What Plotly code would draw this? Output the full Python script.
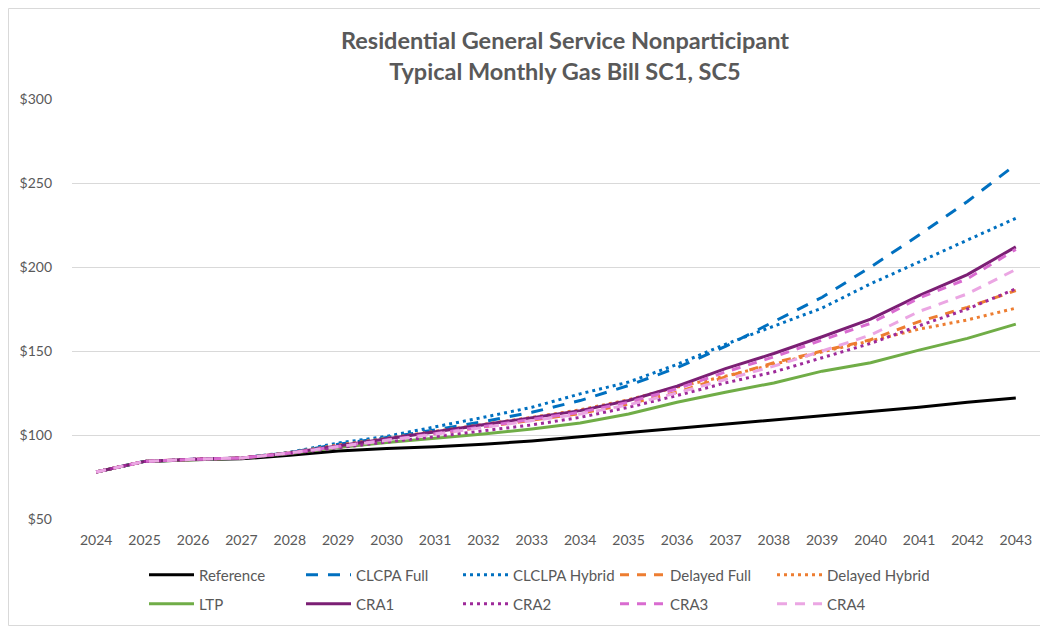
import plotly.graph_objects as go

years = [str(y) for y in range(2024, 2044)]

reference      = [78, 84.3, 85.2, 85.8, 88.0, 90.5, 92.0, 93.0, 94.5, 96.5, 99.0, 101.5, 104.0, 106.5, 109.0, 111.2, 113.6, 116.5, 119.5, 122.0]
clcpa_full     = [78, 84.3, 85.5, 86.3, 89.5, 94.5, 98.5, 103.0, 108.0, 113.5, 120.5, 129.5, 140.0, 152.7, 167.5, 182.0, 200.0, 219.0, 239.0, 261.0]
clclpa_hybrid  = [78, 84.3, 85.5, 86.3, 89.8, 95.2, 99.2, 104.8, 110.5, 116.5, 124.5, 131.5, 142.0, 154.0, 164.7, 175.6, 190.0, 203.0, 216.0, 229.0]
delayed_full   = [78, 84.3, 85.5, 86.3, 89.3, 93.3, 97.0, 100.8, 104.8, 108.8, 112.8, 118.5, 125.5, 134.5, 143.0, 150.0, 156.7, 167.5, 176.0, 186.0]
delayed_hybrid = [78, 84.3, 85.5, 86.3, 89.5, 94.0, 98.0, 102.0, 106.3, 110.5, 115.0, 121.0, 128.5, 135.0, 142.0, 149.5, 156.0, 163.0, 168.5, 175.5]
ltp            = [78, 84.3, 85.3, 86.3, 89.0, 92.5, 95.5, 98.0, 100.6, 103.6, 107.2, 112.5, 119.5, 125.5, 131.0, 138.0, 143.0, 150.5, 157.5, 166.0]
cra1           = [78, 84.3, 85.5, 86.3, 89.3, 93.5, 97.5, 101.5, 106.0, 110.0, 114.5, 120.5, 129.0, 139.5, 148.5, 158.5, 169.0, 183.0, 195.5, 212.0]
cra2           = [78, 84.3, 85.5, 86.3, 89.0, 92.5, 95.8, 99.0, 102.5, 106.0, 110.5, 116.5, 123.5, 131.0, 137.5, 146.0, 154.5, 165.0, 175.0, 187.0]
cra3           = [78, 84.3, 85.5, 86.3, 89.3, 93.3, 97.0, 100.8, 105.0, 109.0, 113.5, 119.5, 127.5, 137.5, 146.5, 156.5, 166.5, 181.5, 193.0, 210.5]
cra4           = [78, 84.3, 85.5, 86.3, 89.3, 93.2, 96.8, 100.5, 104.5, 108.5, 112.5, 118.0, 125.0, 133.0, 141.0, 150.0, 159.5, 173.5, 184.0, 198.5]

y_ticks = [50, 100, 150, 200, 250, 300]
y_tick_labels = ["$50", "$100", "$150", "$200", "$250", "$300"]

series = [
    ("Reference", reference, "#000000", "solid", "legend"),
    ("CLCPA Full", clcpa_full, "#0070C0", "12px,10px", "legend"),
    ("CLCLPA Hybrid", clclpa_hybrid, "#0070C0", "3px,4px", "legend"),
    ("Delayed Full", delayed_full, "#ED7D31", "9px,8px", "legend"),
    ("Delayed Hybrid", delayed_hybrid, "#ED7D31", "3px,4px", "legend"),
    ("LTP", ltp, "#70AD47", "solid", "legend2"),
    ("CRA1", cra1, "#7B1F74", "solid", "legend2"),
    ("CRA2", cra2, "#9E2A9A", "3px,4px", "legend2"),
    ("CRA3", cra3, "#D96BD0", "9px,8px", "legend2"),
    ("CRA4", cra4, "#EBA6E3", "10px,8px", "legend2"),
]

fig = go.Figure()
for name, vals, color, dash, leg in series:
    fig.add_trace(go.Scatter(
        x=years, y=vals, name=name, mode="lines", legend=leg,
        line=dict(color=color, width=3, dash=dash),
    ))

# page has an 8px body margin: figure is 1040x620, offset by 8px
W, H = 1040, 620
L, R, T, B = 64, 8, 91, 109
PW, PH = W - L - R, H - T - B

font_family = "Lato, 'Open Sans', sans-serif"
legend_common = dict(
    orientation="h", x=72 / PW, xanchor="left", yanchor="middle",
    entrywidth=97, entrywidthmode="pixels",
    font=dict(size=15, color="#595959"),
    itemwidth=45, bgcolor="rgba(0,0,0,0)",
)
fig.update_layout(
    width=W, height=H,
    margin=dict(l=L, r=R, t=T, b=B),
    paper_bgcolor="white", plot_bgcolor="white",
    font=dict(family=font_family, size=14, color="#595959"),
    title=dict(
        text="<b>Residential General Service Nonparticipant<br>Typical Monthly Gas Bill SC1, SC5</b>",
        xref="paper", x=(565 - 72) / PW, xanchor="center", y=1 - 41 / H, yanchor="middle",
        font=dict(family=font_family, size=23.5, color="#595959"),
    ),
    xaxis=dict(
        type="category", range=[-0.5, 19.5], showgrid=False, showline=False, zeroline=False,
        ticks="", ticklabelstandoff=11, tickfont=dict(size=14, color="#595959"),
    ),
    yaxis=dict(
        range=[50, 300], tickvals=y_ticks, ticktext=y_tick_labels,
        showgrid=True, gridcolor="#D9D9D9", gridwidth=1,
        zeroline=False, showline=False, ticks="",
        ticklabelstandoff=19,
        tickfont=dict(size=14, color="#595959"),
    ),
    legend=dict(legend_common, y=(PH - (575 - 8 - T)) / PH),
    legend2=dict(legend_common, y=(PH - (604 - 8 - T)) / PH),
    shapes=[dict(
        type="rect", xref="paper", yref="paper",
        x0=(0.5 - L) / PW, x1=(W - 2.5 - L) / PW,
        y0=(PH + T - (H - 2.5)) / PH, y1=(PH + T - 0.5) / PH,
        line=dict(color="#D9D9D9", width=1), fillcolor="rgba(0,0,0,0)", layer="below",
    )],
)

fig.write_html("out.html")
